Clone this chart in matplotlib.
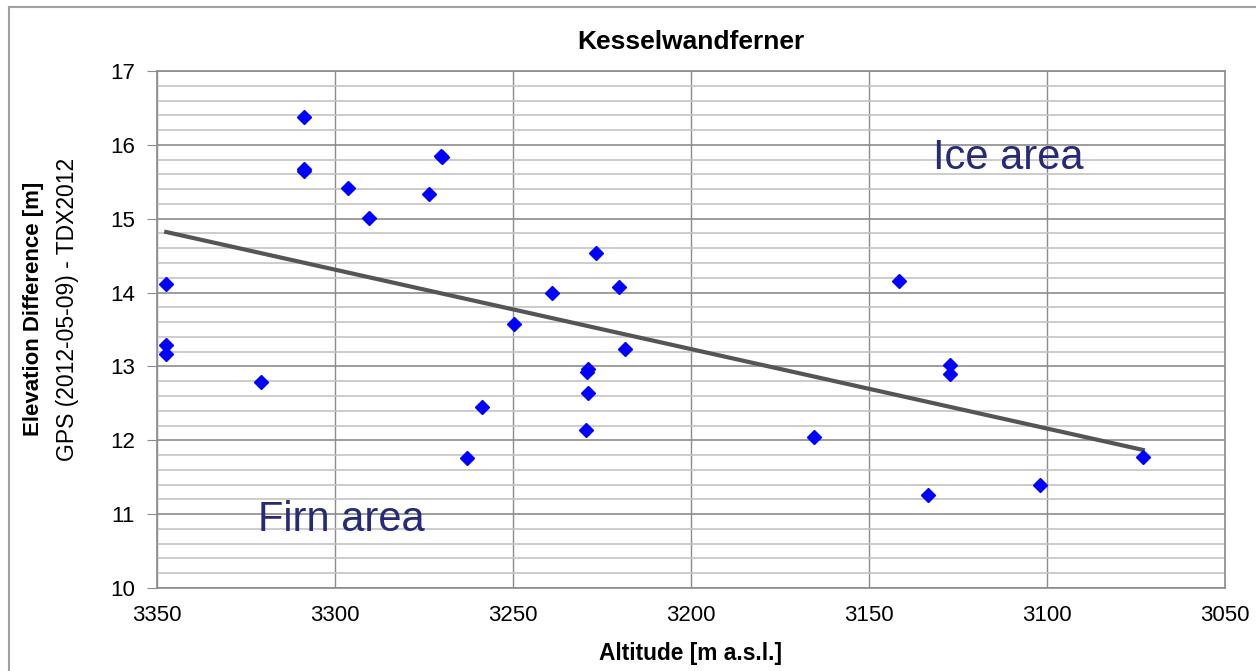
import matplotlib.pyplot as plt
from matplotlib.lines import Line2D
from matplotlib.ticker import MultipleLocator

plt.rcParams['font.family'] = ['Liberation Sans', 'DejaVu Sans']

# altitude [m a.s.l.] and elevation difference [m]
altitude = [3347.4, 3347.4, 3347.4, 3320.9, 3308.7, 3308.8, 3308.7, 3296.4, 3290.4,
            3273.5, 3270.0, 3270.1, 3258.6, 3262.8, 3249.7, 3239.0, 3226.7, 3220.2,
            3218.5, 3229.0, 3229.1, 3228.8, 3229.5, 3165.4, 3141.5, 3127.3, 3127.3,
            3133.5, 3101.9, 3073.1]
elev_diff = [14.12, 13.29, 13.17, 12.79, 16.38, 15.65, 15.67, 15.41, 15.01,
             15.34, 15.83, 15.85, 12.45, 11.76, 13.57, 14.00, 14.53, 14.08,
             13.24, 12.96, 12.92, 12.64, 12.14, 12.04, 14.15, 13.02, 12.90,
             11.26, 11.39, 11.78]

# linear trend as drawn in the original chart
trend_x = [3347.4, 3073.1]
trend_y = [14.82, 11.87]

fig = plt.figure(figsize=(12.56, 6.71), dpi=100)
ax = fig.add_axes([0.125, 0.1237, 0.8503, 0.7705])

ax.yaxis.set_major_locator(MultipleLocator(1))
ax.yaxis.set_minor_locator(MultipleLocator(0.2))
ax.xaxis.set_major_locator(MultipleLocator(50))
ax.grid(which='minor', axis='y', color='#c4c4c4', linewidth=1.2)
ax.grid(which='major', axis='y', color='#8c8c8c', linewidth=1.2)
ax.grid(which='major', axis='x', color='#8c8c8c', linewidth=1.0)
ax.set_axisbelow(True)

ax.plot(trend_x, trend_y, color='#555555', linewidth=3)
ax.plot(altitude, elev_diff, linestyle='none', marker='D', markersize=7,
        color='#0000ff', markeredgecolor='#0000ff')

ax.set_xlim(3350, 3050)
ax.set_ylim(10, 17)

for s in ax.spines.values():
    s.set_color('#8c8c8c')
    s.set_linewidth(1.2)
ax.tick_params(which='major', axis='y', length=7, color='#8c8c8c', labelsize=16, pad=9)
ax.tick_params(which='minor', axis='y', length=0)
ax.tick_params(which='major', axis='x', length=0, labelsize=16, pad=12)

ax.set_title('Kesselwandferner', fontsize=19, fontweight='bold', pad=16)
ax.set_xlabel('Altitude [m a.s.l.]', fontsize=16.4, fontweight='bold', labelpad=12)
fig.text(0.027, 0.5395, 'Elevation Difference [m]', rotation=90, fontsize=16,
         fontweight='bold', ha='center', va='center')
fig.text(0.054, 0.5395, 'GPS (2012-05-09) - TDX2012', rotation=90, fontsize=16.5,
         ha='center', va='center')

ax.text(0.0945, 0.11, 'Firn area', transform=ax.transAxes, fontsize=30,
        color='#262a78')
ax.text(0.727, 0.81, 'Ice area', transform=ax.transAxes, fontsize=30,
        color='#262a78')

# outer chart frame
fig.add_artist(Line2D([9/1256, 9/1256], [0, 1 - 7/671], color='#a0a0a0', linewidth=1.5))
fig.add_artist(Line2D([9/1256, 1], [1 - 7/671, 1 - 7/671], color='#a0a0a0', linewidth=1.5))

fig.savefig('out.png', dpi=100)
